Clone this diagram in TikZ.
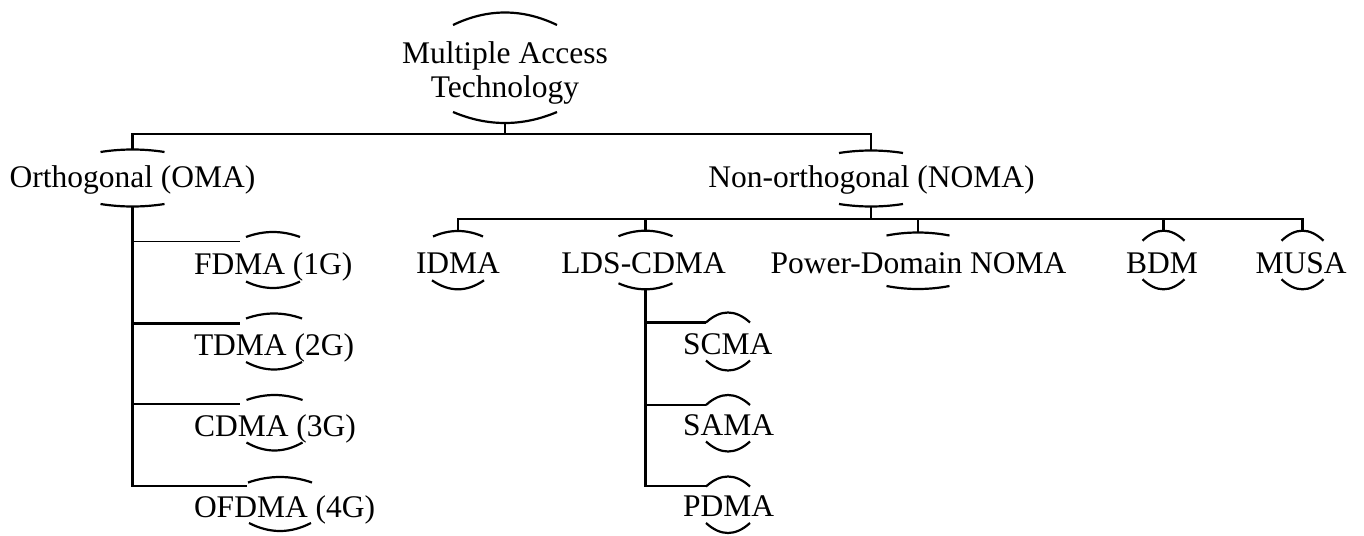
\documentclass[tikz,border=0pt]{standalone}
\usepackage{fontspec}
\setmainfont{Liberation Serif}

% Caps above and below a label: #1 name, #2 centre x,
% #3 top apex y, #4 top half width, #5 top rise,
% #6 bottom apex y, #7 bottom half width, #8 bottom dip.
% Defines (#1-n) and (#1-s) at the two apexes for the connectors.
\newcommand{\nodecaps}[8]{%
  \coordinate (#1-n) at (#2,#3);
  \coordinate (#1-s) at (#2,#6);
  \draw[capline] (#2-#4,#3+#5) .. controls (#2-#4/3,#3-#5/3) and (#2+#4/3,#3-#5/3) .. (#2+#4,#3+#5);
  \draw[capline] (#2-#7,#6-#8) .. controls (#2-#7/3,#6+#8/3) and (#2+#7/3,#6+#8/3) .. (#2+#7,#6-#8);
}

\begin{document}
\begin{tikzpicture}[x=1pt,y=-1pt,
  lbl/.style={inner sep=0pt, outer sep=0pt, font=\fontsize{31.5}{34}\selectfont},
  capline/.style={line width=2.2pt},
  link/.style={line width=2.9pt},
  thinlink/.style={line width=1.2pt}]
\useasboundingbox[fill=white] (0,0) rectangle (1364,535);

% ---- labels ----
\node[lbl, align=center, anchor=base] (root) at (505,97) {Multiple Access\\Technology};
\node[lbl, anchor=base] (oma)  at (132.5,187) {Orthogonal (OMA)};
\node[lbl, anchor=base] (noma) at (871.5,187) {Non-orthogonal (NOMA)};

\node[lbl, anchor=base west] (fdma)  at (194,274) {FDMA (1G)};
\node[lbl, anchor=base west] (tdma)  at (194,355) {TDMA (2G)};
\node[lbl, anchor=base west] (cdma)  at (194,436) {CDMA (3G)};
\node[lbl, anchor=base west] (ofdma) at (194,517) {OFDMA (4G)};

\node[lbl, anchor=base] (idma) at (458,273)    {IDMA};
\node[lbl, anchor=base] (lds)  at (643.5,273)  {LDS-CDMA};
\node[lbl, anchor=base] (pd)   at (918.5,273)  {Power-Domain NOMA};
\node[lbl, anchor=base] (bdm)  at (1162,273)   {BDM};
\node[lbl, anchor=base] (musa) at (1301,273)   {MUSA};

\node[lbl, anchor=base west] (scma) at (683,354) {SCMA};
\node[lbl, anchor=base west] (sama) at (683,435) {SAMA};
\node[lbl, anchor=base west] (pdma) at (683,516) {PDMA};

% ---- caps ----
\nodecaps{root}{505}{12.5}{52}{12.5}{123}{52}{11}
\nodecaps{oma}{132.5}{149.5}{32}{2.5}{206.5}{32}{2.5}
\nodecaps{noma}{871}{150.5}{32}{2.5}{206.5}{32}{2.5}

\nodecaps{fdma}{273}{232}{27}{5}{288}{27}{6.5}
\nodecaps{tdma}{274}{313.5}{28}{5}{369.5}{28}{7.5}
\nodecaps{cdma}{274.5}{395}{28}{5}{450.5}{28}{8}
\nodecaps{ofdma}{280}{477}{32}{5.5}{531}{31}{8}

\nodecaps{idma}{458}{231}{25}{5.5}{289.3}{26}{9}
\nodecaps{lds}{645.5}{230.7}{27}{5.5}{289.3}{27}{6}
\nodecaps{pd}{918}{232.5}{31.5}{3}{289}{31.5}{3}
\nodecaps{bdm}{1163.5}{230.7}{21}{10}{289.3}{21}{10}
\nodecaps{musa}{1302.5}{230.7}{21}{10}{289.3}{21}{10}

\nodecaps{scma}{728}{312.5}{22}{10}{370.5}{22}{10}
\nodecaps{sama}{728}{395}{22}{10}{451.5}{22}{10}
\nodecaps{pdma}{728}{476.5}{22}{10}{533}{22}{10}

% ---- connectors ----
\coordinate (bus0) at (505,134);
\coordinate (bus1) at (871,219);
\draw[link] (root-s) -- (root-s |- bus0);
\draw[link] (oma-n) -- (oma-n |- bus0) -- (noma-n |- bus0) -- (noma-n);

\draw[link] (noma-s) -- (noma-s |- bus1);
\draw[link] (idma-n) -- (idma-n |- bus1) -- (musa-n |- bus1) -- (musa-n);
\foreach \k in {lds,pd,bdm} \draw[link] (\k-n) -- (\k-n |- bus1);

% orthogonal branch
\coordinate (fdma-w)  at (240,241.7);
\coordinate (tdma-w)  at (240,323.3);
\coordinate (cdma-w)  at (240,404);
\coordinate (ofdma-w) at (246.7,486);
\draw[link] (oma-s) |- (ofdma-w);
\draw[thinlink] (oma-s |- fdma-w) -- (fdma-w);
\draw[link] (oma-s |- tdma-w) -- (tdma-w);
\draw[link] (oma-s |- cdma-w) -- (cdma-w);

% LDS-CDMA branch
\coordinate (scma-w) at (706,322.7);
\coordinate (sama-w) at (706,405);
\coordinate (pdma-w) at (706,486);
\draw[link] (lds-s) |- (pdma-w);
\draw[link] (lds-s |- scma-w) -- (scma-w);
\draw[link] (lds-s |- sama-w) -- (sama-w);
\end{tikzpicture}
\end{document}
